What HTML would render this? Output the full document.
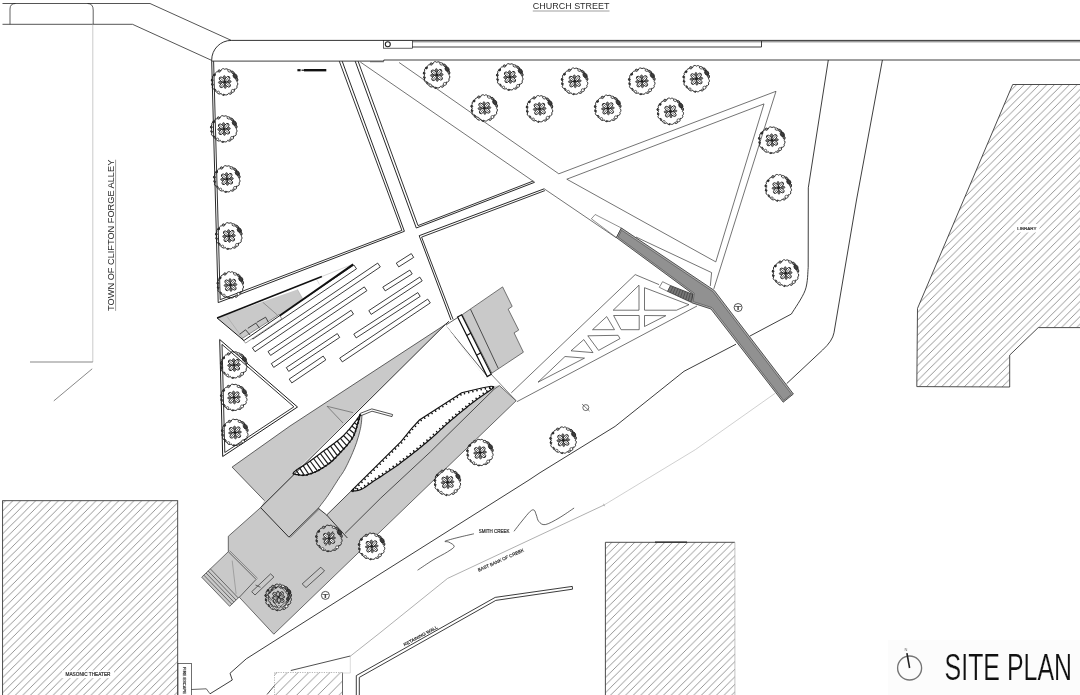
<!DOCTYPE html>
<html lang="en"><head><meta charset="utf-8"><title>Site Plan</title>
<style>html,body{margin:0;padding:0;background:#fff;}body{width:1080px;height:695px;overflow:hidden;}svg{display:block;filter:grayscale(1);}text{font-family:"Liberation Sans",sans-serif;fill:#2a2a2a;}.sm text,text.sm{stroke:#2a2a2a;stroke-width:0.18px;}</style></head><body>
<svg width="1080" height="695" viewBox="0 0 1080 695">
<defs>
<pattern id="h1" patternUnits="userSpaceOnUse" x="6.46" y="0" width="7.57" height="7.57"><path d="M-7.57,7.57 L7.57,-7.57 M0,7.57 L7.57,0 M0,15.14 L15.14,0" stroke="#6c6c6c" stroke-width="0.72" fill="none"/></pattern>
<pattern id="h2" patternUnits="userSpaceOnUse" x="3.68" y="0" width="7.57" height="7.57"><path d="M-7.57,7.57 L7.57,-7.57 M0,7.57 L7.57,0 M0,15.14 L15.14,0" stroke="#6c6c6c" stroke-width="0.72" fill="none"/></pattern>
<pattern id="h3" patternUnits="userSpaceOnUse" x="6" y="0" width="10.6" height="10.6"><path d="M-10.6,10.6 L10.6,-10.6 M0,10.6 L10.6,0 M0,21.2 L21.2,0" stroke="#6c6c6c" stroke-width="0.72" fill="none"/></pattern>
<g id="tree"><path d="M11.9,0 A2.3,2.3 0 0 1 12,3.9 A2.1,2.1 0 0 1 9.6,7 A2.6,2.6 0 0 1 7.4,10.2 A2.1,2.1 0 0 1 3.7,11.3 A2.5,2.5 0 0 1 0,12.6 A2.3,2.3 0 0 1 -3.7,11.3 A2.1,2.1 0 0 1 -7.4,10.2 A2.5,2.5 0 0 1 -9.6,7 A2,2 0 0 1 -12,3.9 A2.4,2.4 0 0 1 -11.9,0 A2.1,2.1 0 0 1 -12,-3.9 A2.1,2.1 0 0 1 -9.6,-7 A2.4,2.4 0 0 1 -7.4,-10.2 A2.7,2.7 0 0 1 -3.7,-11.3 A2.1,2.1 0 0 1 -0,-12.6 A2.2,2.2 0 0 1 3.7,-11.3 A2.6,2.6 0 0 1 7.4,-10.2 A2.9,2.9 0 0 1 9.6,-7 A2.5,2.5 0 0 1 12,-3.9 A2.4,2.4 0 0 1 11.9,-0Z" fill="none" stroke="#1c1c1c" stroke-width="0.9"/><ellipse cx="4.5" cy="-11.1" rx="1.1" ry="1.6" transform="rotate(-68 4.5 -11.1)" fill="#fff" stroke="#1a1a1a" stroke-width="0.7"/><ellipse cx="8" cy="-9.5" rx="1.1" ry="1.6" transform="rotate(-50 8 -9.5)" fill="#777" stroke="#1a1a1a" stroke-width="0.7"/><ellipse cx="10.3" cy="-5.9" rx="1.9" ry="2.5" transform="rotate(-30 10.3 -5.9)" fill="#3c3c3c" stroke="#1a1a1a" stroke-width="0.7"/><ellipse cx="12" cy="-2.6" rx="1" ry="1.4" transform="rotate(-12 12 -2.6)" fill="#888" stroke="#1a1a1a" stroke-width="0.7"/><circle cx="8" cy="8.9" r="1.5" fill="#fff" stroke="#1a1a1a" stroke-width="0.65"/><circle cx="5.9" cy="11.1" r="0.9" fill="#fff" stroke="#1a1a1a" stroke-width="0.65"/><circle cx="-6.5" cy="10.3" r="1.2" fill="#fff" stroke="#1a1a1a" stroke-width="0.65"/><circle cx="-9.4" cy="8.4" r="0.8" fill="#888" stroke="#1a1a1a" stroke-width="0.65"/><circle cx="-12.3" cy="2.6" r="0.9" fill="#444" stroke="#1a1a1a" stroke-width="0.65"/><circle cx="-12.6" cy="-1.8" r="1" fill="#444" stroke="#1a1a1a" stroke-width="0.65"/><circle cx="-10.4" cy="-7" r="1" fill="#333" stroke="#1a1a1a" stroke-width="0.65"/><circle cx="-5.6" cy="-11" r="1.2" fill="#999" stroke="#1a1a1a" stroke-width="0.65"/><circle cx="-1.1" cy="12.8" r="0.7" fill="#666" stroke="#1a1a1a" stroke-width="0.65"/><ellipse cx="2.8" cy="2.4" rx="3.3" ry="1.9" transform="rotate(40 2.8 2.4)" fill="#fff" stroke="#222" stroke-width="0.9"/><ellipse cx="-2.4" cy="2.8" rx="3.3" ry="1.9" transform="rotate(130 -2.4 2.8)" fill="#fff" stroke="#222" stroke-width="0.9"/><ellipse cx="-2.8" cy="-2.4" rx="3.3" ry="1.9" transform="rotate(220 -2.8 -2.4)" fill="#fff" stroke="#222" stroke-width="0.9"/><ellipse cx="2.4" cy="-2.8" rx="3.3" ry="1.9" transform="rotate(310 2.4 -2.8)" fill="#fff" stroke="#222" stroke-width="0.9"/><ellipse cx="4.6" cy="-0.4" rx="1.8" ry="1.1" transform="rotate(-5 4.6 -0.4)" fill="#777" stroke="#222" stroke-width="0.6"/><ellipse cx="0.4" cy="4.6" rx="1.8" ry="1.1" transform="rotate(85 0.4 4.6)" fill="#777" stroke="#222" stroke-width="0.6"/><ellipse cx="-4.6" cy="0.4" rx="1.8" ry="1.1" transform="rotate(175 -4.6 0.4)" fill="#777" stroke="#222" stroke-width="0.6"/><ellipse cx="-0.4" cy="-4.6" rx="1.8" ry="1.1" transform="rotate(265 -0.4 -4.6)" fill="#777" stroke="#222" stroke-width="0.6"/><path d="M-5,-4.2 L5,4.2 M-4.2,5 L4.2,-5 M-2.4,0 H2.4 M0,-2.4 V2.4" stroke="#222" stroke-width="0.7" fill="none"/><circle cx="0" cy="0" r="1.2" fill="#222"/></g>
</defs>
<rect width="1080" height="695" fill="#fff"/>
<g id="masonic">
<rect x="2.6" y="500.7" width="175.1" height="200" fill="url(#h1)" stroke="#3a3a3a" stroke-width="0.9"/>
<rect x="62" y="670.5" width="52" height="7.5" fill="#fff"/>
<text class="sm" x="65.5" y="676.2" font-size="4.5" textLength="45" lengthAdjust="spacingAndGlyphs">MASONIC THEATER</text>
</g>
<g id="fire-escape"><rect x="178" y="663.4" width="13.4" height="40" fill="#fff" stroke="#333" stroke-width="0.7"/>
<text class="sm" transform="translate(183.2,667) rotate(90)" font-size="4.2" textLength="27" lengthAdjust="spacingAndGlyphs">FIRE ESCAPE</text></g>
<g id="library">
<polygon points="1012.7,84.5 1085,84.5 1085,327.6 1038.2,327.6 1009.7,355.1 1009.7,387 916.8,386.6 917.5,308.4" fill="url(#h2)" stroke="#3a3a3a" stroke-width="0.9" />
<rect x="1014.5" y="224" width="25" height="8.5" fill="#fff"/>
<text class="sm" x="1017.3" y="230" font-size="4.4" textLength="19.2" lengthAdjust="spacingAndGlyphs">LIBRARY</text>
</g>
<g id="bldg-south">
<rect x="605.4" y="542.3" width="129.5" height="160" fill="url(#h2)" stroke="none"/>
<polyline points="605.4,700 605.4,542.3 734.9,542.3" fill="none" stroke="#3a3a3a" stroke-width="0.9" />
<line x1="734.9" y1="542.3" x2="734.9" y2="700" stroke="#aaa" stroke-width="0.7"/>
<line x1="655" y1="542.1" x2="687" y2="542.1" stroke="#222" stroke-width="1.2"/>
</g>
<g id="bldg-small">
<rect x="274.5" y="672.5" width="68" height="30" fill="url(#h3)" stroke="none"/>
<polyline points="274.5,700 274.5,672.5 342.5,672.5" fill="none" stroke="#999" stroke-width="0.7" stroke-dasharray="1.2 1.2"/>
<line x1="342.5" y1="672.5" x2="342.5" y2="700" stroke="#444" stroke-width="0.8"/>
</g>
<g id="streets">
<path d="M2.5,3.5 H150 L231.3,40.4" fill="none" stroke="#1c1c1c" stroke-width="0.75" />
<path d="M2.5,24.3 H132.5 L211.5,60.3" fill="none" stroke="#1c1c1c" stroke-width="0.75" />
<path d="M10,24.3 V9 Q10,3.5 15.5,3.5 M87.5,3.5 Q93.2,3.5 93.2,10 V24.3" fill="none" stroke="#1c1c1c" stroke-width="0.7" />
<path d="M211.7,61.2 V60 A19.6,19.6 0 0 1 231.3,40.4 H1080" fill="none" stroke="#1c1c1c" stroke-width="0.9" />
<line x1="412" y1="41.8" x2="1080" y2="41.8" stroke="#333" stroke-width="0.7"/>
<polyline points="211.7,61.1 383.8,61.1 383.8,60 1080,60" fill="none" stroke="#1c1c1c" stroke-width="0.85" />
<line x1="370" y1="61.8" x2="383.8" y2="61.8" stroke="#333" stroke-width="0.6"/>
<rect x="383.5" y="40.6" width="29" height="7.6" fill="#fff" stroke="#222" stroke-width="0.7"/>
<circle cx="387.8" cy="44.3" r="2.5" fill="#fff" stroke="#222" stroke-width="1.1"/>
<polyline points="412,47 761.5,47 761.5,41" fill="none" stroke="#2a2a2a" stroke-width="0.9" />
<line x1="92.8" y1="24.3" x2="92.8" y2="362" stroke="#b4b4b4" stroke-width="0.7"/>
<line x1="30" y1="362" x2="92.8" y2="362" stroke="#555" stroke-width="0.7"/>
<line x1="92.2" y1="368.8" x2="53.8" y2="400.9" stroke="#555" stroke-width="0.7"/>
<path d="M828.3,60 L808.3,187.8 L808.2,267.6 808.2,267.6 C807.7,271.4 808,282.5 805.2,290.2 C802.4,297.9 793.7,310 791.4,314 L750,336" fill="none" stroke="#1c1c1c" stroke-width="0.85" />
<path d="M882.4,60 L856.5,200 L834,332.7 Q832.5,341 822.6,350 L786.7,383.6" fill="none" stroke="#1c1c1c" stroke-width="0.85" />
</g>
<g id="plots">
<polyline points="342.2,61.2 404.4,231.3 218.2,302.6 211.7,61.2" fill="none" stroke="#1c1c1c" stroke-width="0.95" />
<polyline points="339.3,61.2 401.9,230.4 220.2,299.7 213.6,61.2" fill="none" stroke="#1c1c1c" stroke-width="0.9" />
<line x1="297.4" y1="70.2" x2="300.6" y2="70.2" stroke="#111" stroke-width="2.2"/>
<line x1="301.5" y1="70.2" x2="304" y2="70.2" stroke="#111" stroke-width="1.2"/>
<line x1="304" y1="70.2" x2="326.3" y2="70.2" stroke="#111" stroke-width="2.4"/>
<polyline points="355.2,61.2 416.3,228 534.6,182.3" fill="none" stroke="#1c1c1c" stroke-width="0.95" />
<polyline points="358.1,61.2 418,225.6 533.2,181" fill="none" stroke="#1c1c1c" stroke-width="0.9" />
<line x1="360.3" y1="62" x2="534.6" y2="182.2" stroke="#383838" stroke-width="0.7"/>
<line x1="544.2" y1="188.8" x2="616" y2="237.6" stroke="#383838" stroke-width="0.7"/>
<line x1="399.1" y1="62.5" x2="558.8" y2="173.8" stroke="#383838" stroke-width="0.7"/>
<polyline points="451,320 419.2,235.7 544.2,188.8" fill="none" stroke="#1c1c1c" stroke-width="0.95" />
<polyline points="453.1,319.4 421.6,237.1 544.9,190.6" fill="none" stroke="#1c1c1c" stroke-width="0.9" />
<polyline points="558.8,173.8 776,91.3 713.8,288.9" fill="none" stroke="#383838" stroke-width="0.7" />
<polygon points="566.8,179.2 764,103.9 715.8,261.9" fill="none" stroke="#383838" stroke-width="0.7" />
<polyline points="636,237 711.6,272.6 710.3,286" fill="none" stroke="#383838" stroke-width="0.7" />
<polygon points="219.7,339.5 297.5,407 222.7,456.5" fill="none" stroke="#1c1c1c" stroke-width="1.0" />
<polygon points="222,344.4 293.9,406.8 224.8,452.5" fill="none" stroke="#1c1c1c" stroke-width="0.9" />
</g>
<g id="bars">
<polygon points="252.8,339.1 356.5,268.8 353.9,265 250.2,335.3" fill="#fff" stroke="#1a1a1a" stroke-width="0.85" />
<polygon points="255,351.7 380.3,266.9 377.7,263.1 252.4,347.9" fill="#fff" stroke="#1a1a1a" stroke-width="0.85" />
<polygon points="270.6,355.4 366.9,290.7 364.3,286.9 268,351.6" fill="#fff" stroke="#1a1a1a" stroke-width="0.85" />
<polygon points="273.7,367.4 353.5,314.1 351.1,310.3 271.3,363.6" fill="#fff" stroke="#1a1a1a" stroke-width="0.85" />
<polygon points="288.7,371.4 339.7,337.4 337.3,333.6 286.3,367.6" fill="#fff" stroke="#1a1a1a" stroke-width="0.85" />
<polygon points="291.8,382.9 325.8,359.9 323.2,356.1 289.2,379.1" fill="#fff" stroke="#1a1a1a" stroke-width="0.85" />
<polygon points="398.7,266.9 413.7,257.4 411.3,253.6 396.3,263.1" fill="#fff" stroke="#1a1a1a" stroke-width="0.85" />
<polygon points="385.2,290.9 412.2,273.9 409.8,270.1 382.8,287.1" fill="#fff" stroke="#1a1a1a" stroke-width="0.85" />
<polygon points="371.2,314.4 422.2,280.9 419.8,277.1 368.8,310.6" fill="#fff" stroke="#1a1a1a" stroke-width="0.85" />
<polygon points="356.2,337.9 420.2,296.4 417.8,292.6 353.8,334.1" fill="#fff" stroke="#1a1a1a" stroke-width="0.85" />
<polygon points="342.3,361.9 430.3,302.9 427.7,299.1 339.7,358.1" fill="#fff" stroke="#1a1a1a" stroke-width="0.85" />
</g>
<g id="bldg-nw">
<polygon points="217.1,318 297.4,289.4 302.6,298.7 279.6,315.7 244.1,340.5" fill="#c9c9c9" stroke="none" stroke-width="0.7" />
<polygon points="241.9,338.7 245.6,343.1 281.9,318.7 278.9,314.7" fill="#fff" stroke="#333" stroke-width="0.5" />
<line x1="217.1" y1="318" x2="244.1" y2="340.7" stroke="#1a1a1a" stroke-width="1.0"/>
<line x1="227" y1="316.5" x2="242.6" y2="338" stroke="#999" stroke-width="0.5"/>
<line x1="262.6" y1="302.1" x2="277.4" y2="315" stroke="#555" stroke-width="0.5"/>
<line x1="297.4" y1="289.4" x2="302.6" y2="298.7" stroke="#999" stroke-width="0.5"/>
<line x1="316.7" y1="279.4" x2="319.6" y2="284.6" stroke="#bbb" stroke-width="0.5"/>
<polyline points="239.6,334.3 245.6,329.8 250,335" fill="none" stroke="#222" stroke-width="0.8" />
<polyline points="247.8,328.3 255.9,323.1 259.6,328.3" fill="none" stroke="#222" stroke-width="0.8" />
<polyline points="256.7,322.4 265.6,317.2 268.5,322.4" fill="none" stroke="#222" stroke-width="0.8" />
<line x1="217.1" y1="318" x2="321.9" y2="276.5" stroke="#111" stroke-width="1.5"/>
<line x1="321.9" y1="276.5" x2="353" y2="264.2" stroke="#bbb" stroke-width="0.6"/>
<line x1="353.2" y1="264.4" x2="279.6" y2="315.7" stroke="#111" stroke-width="1.9"/>
<line x1="279.6" y1="315.7" x2="244.1" y2="340.4" stroke="#222" stroke-width="1.0"/>
</g>
<g id="bldg-mid">
<polygon points="462.2,314.7 502.6,286.9 512.2,306.4 508.2,309.2 518.7,330.1 514.1,332.9 523.4,352.2 491.8,373.2" fill="#c9c9c9" stroke="#333" stroke-width="0.65" />
<line x1="470.5" y1="309.2" x2="498.3" y2="368.5" stroke="#222" stroke-width="0.75"/>
<polygon points="445.5,325.3 458.2,317.2 487.2,376.2" fill="none" stroke="#2a2a2a" stroke-width="0.75" />
<polygon points="457.6,317 461.6,314.8 491.3,374.2 487.2,376.6" fill="#fff" stroke="#111" stroke-width="1.2" />
<line x1="466.7" y1="335.4" x2="470.7" y2="333.2" stroke="#111" stroke-width="1.1"/>
<line x1="477" y1="355" x2="481" y2="352.8" stroke="#111" stroke-width="1.1"/>
<polyline points="491.3,374.4 516.1,400.8" fill="none" stroke="#333" stroke-width="0.6" />
</g>
<g id="main-building">
<polygon points="445.2,324.6 290,426 232.1,467.1 264.4,500.6 260.6,507.6 228.3,536.3 228.3,551.7 201.7,577.2 229.6,606.3 239.2,597.1 273.8,634.2 516.1,400.8 499.4,385.6 491.3,386.3" fill="#c9c9c9" stroke="none" stroke-width="0.7" />
<polygon points="445.2,324.6 292.8,473.9 292.8,473.9 293,473.7 293.1,473.4 293.3,473 293.6,472.7 293.9,472.2 294.4,471.7 295.1,471.1 295.9,470.4 297,469.6 298.3,468.8 299.7,467.8 301.3,466.8 303,465.8 304.7,464.7 306.4,463.5 308.1,462.4 309.8,461.2 311.5,460 313.2,458.7 315,457.4 316.8,456.1 318.6,454.7 320.3,453.4 322.1,452.1 323.9,450.8 325.7,449.5 327.6,448.2 329.4,446.8 331.2,445.5 332.9,444.2 334.6,443 336.1,441.8 337.5,440.7 338.8,439.6 340,438.6 341.1,437.7 342.2,436.7 343.3,435.7 344.4,434.6 345.5,433.4 346.7,432.1 347.9,430.7 349.2,429.3 350.4,427.8 351.6,426.3 352.7,424.8 353.8,423.5 354.8,422.2 355.7,421 356.6,419.8 357.4,418.6 358.2,417.5 358.9,416.5 359.5,415.6 360,414.8 360.4,414.2 362,415.5 361.9,416.5 361.8,417.7 361.7,419.2 361.6,420.9 361.4,422.8 361.1,424.7 360.8,426.7 360.4,428.7 359.9,430.8 359.4,432.9 358.8,435.2 358.1,437.6 357.3,440 356.6,442.5 355.7,444.9 354.8,447.4 353.8,449.9 352.7,452.6 351.5,455.4 350.3,458.1 349,460.8 347.8,463.4 346.6,465.8 345.5,468 344.5,469.9 343.5,471.5 342.6,473 341.7,474.3 340.8,475.6 339.8,476.9 338.9,478.4 337.8,480 336.7,481.8 335.5,483.7 334.2,485.7 332.9,487.8 331.6,489.8 330.3,491.8 329,493.8 327.8,495.6 326.5,497.4 325.2,499.3 323.8,501.1 322.4,502.9 321.1,504.6 320,506.1 319,507.3 318.3,508.3 326.7,515 351.1,491.1 351.1,491.1 351.9,491 352.8,490.9 354,490.9 355.3,490.8 356.7,490.6 358.2,490.3 359.7,489.9 361.1,489.4 362.5,488.7 363.8,488 365.1,487.1 366.5,486.2 368,485.1 369.6,483.9 371.4,482.7 373.4,481.3 375.7,479.8 378.2,478.2 381,476.4 383.8,474.5 386.8,472.6 389.8,470.6 392.8,468.6 395.7,466.5 398.7,464.4 401.7,462.1 404.8,459.7 408,457.3 411,454.9 414,452.6 416.8,450.4 419.4,448.3 421.7,446.4 423.9,444.6 425.9,443 427.8,441.3 429.6,439.8 431.4,438.2 433.2,436.6 435,435 436.9,433.3 438.7,431.6 440.5,429.9 442.3,428.2 444.1,426.5 445.9,424.9 447.7,423.3 449.4,421.7 451.1,420.2 452.8,418.8 454.5,417.4 456.2,416 457.8,414.6 459.5,413.3 461.1,411.9 462.8,410.6 464.4,409.3 466.1,407.9 467.6,406.6 469.2,405.3 470.9,404 472.5,402.7 474.3,401.4 476.1,400 478.1,398.5 480.5,396.9 482.9,395.3 485.4,393.6 487.7,392 489.8,390.6 491.6,389.3 492.8,388.3 493.5,387.6 493.7,387.1 493.5,386.8 493.1,386.6 492.6,386.5 492,386.4 491.5,386.4 491.3,386.3" fill="#fff" stroke="none" stroke-width="0.7" />
<polygon points="292.8,473.9 293,473.7 293.1,473.4 293.3,473 293.6,472.7 293.9,472.2 294.4,471.7 295.1,471.1 295.9,470.4 297,469.6 298.3,468.8 299.7,467.8 301.3,466.8 303,465.8 304.7,464.7 306.4,463.5 308.1,462.4 309.8,461.2 311.5,460 313.2,458.7 315,457.4 316.8,456.1 318.6,454.7 320.3,453.4 322.1,452.1 323.9,450.8 325.7,449.5 327.6,448.2 329.4,446.8 331.2,445.5 332.9,444.2 334.6,443 336.1,441.8 337.5,440.7 338.8,439.6 340,438.6 341.1,437.7 342.2,436.7 343.3,435.7 344.4,434.6 345.5,433.4 346.7,432.1 347.9,430.7 349.2,429.3 350.4,427.8 351.6,426.3 352.7,424.8 353.8,423.5 354.8,422.2 355.7,421 356.6,419.8 357.4,418.6 358.2,417.5 358.9,416.5 359.5,415.6 360,414.8 360.4,414.2 360.4,414.2 360.2,414.9 359.9,415.9 359.6,417.1 359.2,418.4 358.8,419.8 358.4,421.2 358,422.6 357.6,424 357.2,425.4 356.8,426.8 356.4,428.3 355.9,429.7 355.5,431.2 355,432.6 354.5,434 353.9,435.3 353.3,436.5 352.7,437.6 352.1,438.6 351.4,439.6 350.7,440.6 349.9,441.6 349.1,442.6 348.3,443.7 347.4,444.8 346.4,446 345.4,447.1 344.3,448.3 343.2,449.5 342.1,450.6 341,451.8 339.9,453 338.8,454.2 337.7,455.4 336.5,456.6 335.4,457.8 334.2,459 333,460.2 331.8,461.3 330.5,462.4 329.2,463.5 327.8,464.5 326.3,465.5 324.8,466.5 323.4,467.4 321.9,468.3 320.6,469.2 319.3,469.9 318.1,470.6 317,471.1 315.9,471.7 314.9,472.1 313.9,472.5 312.9,472.9 311.9,473.3 310.9,473.6 309.9,473.9 309,474.2 308.2,474.5 307.3,474.8 306.4,475 305.5,475.1 304.5,475.2 303.4,475.3 302.2,475.3 300.7,475.1 299.2,474.9 297.6,474.7 296.1,474.5 294.8,474.2 293.6,474 292.8,473.9" fill="#fff" stroke="none" stroke-width="0.7" />
<polyline points="445.2,324.6 290,426 232.1,467.1 264.4,500.6" fill="none" stroke="#333" stroke-width="0.75" />
<polyline points="449,321.3 445.2,324.6 260.6,507.6" fill="none" stroke="#1a1a1a" stroke-width="0.95" />
<polyline points="260.6,507.6 228.3,536.3 228.3,551.7" fill="none" stroke="#333" stroke-width="0.7" />
<polyline points="260.6,507.6 288.9,537.2 318.3,508.3" fill="none" stroke="#1a1a1a" stroke-width="0.9" />
<line x1="290.3" y1="537.4" x2="319.5" y2="508.8" stroke="#333" stroke-width="0.5"/>
<polyline points="362,415.5 361.9,416.5 361.8,417.7 361.7,419.2 361.6,420.9 361.4,422.8 361.1,424.7 360.8,426.7 360.4,428.7 359.9,430.8 359.4,432.9 358.8,435.2 358.1,437.6 357.3,440 356.6,442.5 355.7,444.9 354.8,447.4 353.8,449.9 352.7,452.6 351.5,455.4 350.3,458.1 349,460.8 347.8,463.4 346.6,465.8 345.5,468 344.5,469.9 343.5,471.5 342.6,473 341.7,474.3 340.8,475.6 339.8,476.9 338.9,478.4 337.8,480 336.7,481.8 335.5,483.7 334.2,485.7 332.9,487.8 331.6,489.8 330.3,491.8 329,493.8 327.8,495.6 326.5,497.4 325.2,499.3 323.8,501.1 322.4,502.9 321.1,504.6 320,506.1 319,507.3 318.3,508.3" fill="none" stroke="#2a2a2a" stroke-width="0.7" />
<polyline points="318.3,508.3 326.7,515 347.4,538" fill="none" stroke="#1a1a1a" stroke-width="0.85" />
<polyline points="326.7,515 351.1,491.1" fill="none" stroke="#222" stroke-width="0.8" />
<polyline points="345,533.5 380.8,498 430.6,451.7 493.9,389.4" fill="none" stroke="#222" stroke-width="0.75" />
<polyline points="493.9,389.4 499.4,385.6 516.1,400.8 273.8,634.2 239.2,597.1" fill="none" stroke="#333" stroke-width="0.7" />
<polyline points="353,412.6 327.1,406.3 343,423" fill="none" stroke="#444" stroke-width="0.55" />
<line x1="296.1" y1="470.2" x2="299.5" y2="475" stroke="#1a1a1a" stroke-width="1.2"/>
<line x1="299.6" y1="467.9" x2="304.3" y2="475.3" stroke="#1a1a1a" stroke-width="1.2"/>
<line x1="303.2" y1="465.7" x2="308.7" y2="474.3" stroke="#1a1a1a" stroke-width="1.2"/>
<line x1="306.7" y1="463.4" x2="313.1" y2="472.8" stroke="#1a1a1a" stroke-width="1.2"/>
<line x1="310.1" y1="461" x2="317.4" y2="470.9" stroke="#1a1a1a" stroke-width="1.2"/>
<line x1="313.5" y1="458.5" x2="321.2" y2="468.8" stroke="#1a1a1a" stroke-width="1.2"/>
<line x1="316.9" y1="456" x2="324.8" y2="466.5" stroke="#1a1a1a" stroke-width="1.2"/>
<line x1="320.3" y1="453.5" x2="328.2" y2="464.2" stroke="#1a1a1a" stroke-width="1.2"/>
<line x1="323.6" y1="451" x2="331.4" y2="461.6" stroke="#1a1a1a" stroke-width="1.2"/>
<line x1="327" y1="448.5" x2="334.4" y2="458.8" stroke="#1a1a1a" stroke-width="1.2"/>
<line x1="330.5" y1="446.1" x2="337.4" y2="455.6" stroke="#1a1a1a" stroke-width="1.2"/>
<line x1="333.8" y1="443.6" x2="340.5" y2="452.4" stroke="#1a1a1a" stroke-width="1.2"/>
<line x1="337.1" y1="441" x2="343.6" y2="449.1" stroke="#1a1a1a" stroke-width="1.2"/>
<line x1="340.4" y1="438.3" x2="346.7" y2="445.6" stroke="#1a1a1a" stroke-width="1.2"/>
<line x1="343.5" y1="435.5" x2="349.8" y2="441.8" stroke="#1a1a1a" stroke-width="1.2"/>
<line x1="346.4" y1="432.4" x2="352.4" y2="438" stroke="#1a1a1a" stroke-width="1.2"/>
<line x1="349.1" y1="429.3" x2="354.5" y2="433.8" stroke="#1a1a1a" stroke-width="1.2"/>
<line x1="351.8" y1="426" x2="356" y2="429.4" stroke="#1a1a1a" stroke-width="1.2"/>
<line x1="354.4" y1="422.7" x2="357.3" y2="425" stroke="#1a1a1a" stroke-width="1.2"/>
<line x1="356.9" y1="419.3" x2="358.6" y2="420.6" stroke="#1a1a1a" stroke-width="1.2"/>
<line x1="359.3" y1="415.9" x2="359.8" y2="416.2" stroke="#1a1a1a" stroke-width="1.2"/>
<polyline points="292.8,473.9 293,473.7 293.1,473.4 293.3,473 293.6,472.7 293.9,472.2 294.4,471.7 295.1,471.1 295.9,470.4 297,469.6 298.3,468.8 299.7,467.8 301.3,466.8 303,465.8 304.7,464.7 306.4,463.5 308.1,462.4 309.8,461.2 311.5,460 313.2,458.7 315,457.4 316.8,456.1 318.6,454.7 320.3,453.4 322.1,452.1 323.9,450.8 325.7,449.5 327.6,448.2 329.4,446.8 331.2,445.5 332.9,444.2 334.6,443 336.1,441.8 337.5,440.7 338.8,439.6 340,438.6 341.1,437.7 342.2,436.7 343.3,435.7 344.4,434.6 345.5,433.4 346.7,432.1 347.9,430.7 349.2,429.3 350.4,427.8 351.6,426.3 352.7,424.8 353.8,423.5 354.8,422.2 355.7,421 356.6,419.8 357.4,418.6 358.2,417.5 358.9,416.5 359.5,415.6 360,414.8 360.4,414.2" fill="none" stroke="#111" stroke-width="1.2" />
<polyline points="292.8,473.9 293.6,474 294.8,474.2 296.1,474.5 297.6,474.7 299.2,474.9 300.7,475.1 302.2,475.3 303.4,475.3 304.5,475.2 305.5,475.1 306.4,475 307.3,474.8 308.2,474.5 309,474.2 309.9,473.9 310.9,473.6 311.9,473.3 312.9,472.9 313.9,472.5 314.9,472.1 315.9,471.7 317,471.1 318.1,470.6 319.3,469.9 320.6,469.2 321.9,468.3 323.4,467.4 324.8,466.5 326.3,465.5 327.8,464.5 329.2,463.5 330.5,462.4 331.8,461.3 333,460.2 334.2,459 335.4,457.8 336.5,456.6 337.7,455.4 338.8,454.2 339.9,453 341,451.8 342.1,450.6 343.2,449.5 344.3,448.3 345.4,447.1 346.4,446 347.4,444.8 348.3,443.7 349.1,442.6 349.9,441.6 350.7,440.6 351.4,439.6 352.1,438.6 352.7,437.6 353.3,436.5 353.9,435.3 354.5,434 355,432.6 355.5,431.2 355.9,429.7 356.4,428.3 356.8,426.8 357.2,425.4 357.6,424 358,422.6 358.4,421.2 358.8,419.8 359.2,418.4 359.6,417.1 359.9,415.9 360.2,414.9 360.4,414.2" fill="none" stroke="#111" stroke-width="1.3" />
<circle cx="298.7" cy="474.9" r="0.95" fill="#111"/>
<circle cx="302.9" cy="475.3" r="0.95" fill="#111"/>
<circle cx="307.1" cy="474.8" r="0.95" fill="#111"/>
<circle cx="311.1" cy="473.5" r="0.95" fill="#111"/>
<circle cx="315" cy="472.1" r="0.95" fill="#111"/>
<circle cx="318.7" cy="470.2" r="0.95" fill="#111"/>
<circle cx="322.4" cy="468.1" r="0.95" fill="#111"/>
<circle cx="325.9" cy="465.8" r="0.95" fill="#111"/>
<circle cx="329.3" cy="463.3" r="0.95" fill="#111"/>
<circle cx="332.5" cy="460.6" r="0.95" fill="#111"/>
<circle cx="335.5" cy="457.7" r="0.95" fill="#111"/>
<circle cx="338.4" cy="454.6" r="0.95" fill="#111"/>
<circle cx="341.3" cy="451.6" r="0.95" fill="#111"/>
<circle cx="344.1" cy="448.5" r="0.95" fill="#111"/>
<circle cx="346.9" cy="445.4" r="0.95" fill="#111"/>
<circle cx="349.6" cy="442.1" r="0.95" fill="#111"/>
<circle cx="352" cy="438.7" r="0.95" fill="#111"/>
<circle cx="354" cy="435" r="0.95" fill="#111"/>
<circle cx="355.5" cy="431.1" r="0.95" fill="#111"/>
<circle cx="356.7" cy="427.1" r="0.95" fill="#111"/>
<circle cx="357.9" cy="423" r="0.95" fill="#111"/>
<circle cx="359.1" cy="419" r="0.95" fill="#111"/>
<circle cx="360.2" cy="414.9" r="0.95" fill="#111"/>
<polygon points="360.2,413.4 371.8,408.9 392.6,414.5 392,416.6 372,411.2 361.2,415.6" fill="#fff" stroke="#1a1a1a" stroke-width="0.75" />
<polyline points="491.3,386.3 482.8,387.8 461.7,392.8 419.4,420 411.7,428.3 401.2,441.4 351.1,491.1" fill="none" stroke="#111" stroke-width="1.15" />
<line x1="489.3" y1="386.6" x2="489.6" y2="388.1" stroke="#111" stroke-width="0.9"/>
<circle cx="489.6" cy="388.1" r="0.8" fill="#111"/>
<line x1="485.1" y1="387.4" x2="485.4" y2="388.9" stroke="#111" stroke-width="0.9"/>
<circle cx="485.4" cy="388.9" r="0.8" fill="#111"/>
<line x1="480.9" y1="388.3" x2="481.2" y2="389.7" stroke="#111" stroke-width="0.9"/>
<circle cx="481.2" cy="389.7" r="0.8" fill="#111"/>
<line x1="476.7" y1="389.2" x2="477" y2="390.7" stroke="#111" stroke-width="0.9"/>
<circle cx="477" cy="390.7" r="0.8" fill="#111"/>
<line x1="472.5" y1="390.2" x2="472.9" y2="391.7" stroke="#111" stroke-width="0.9"/>
<circle cx="472.9" cy="391.7" r="0.8" fill="#111"/>
<line x1="468.3" y1="391.2" x2="468.7" y2="392.7" stroke="#111" stroke-width="0.9"/>
<circle cx="468.7" cy="392.7" r="0.8" fill="#111"/>
<line x1="464.1" y1="392.2" x2="464.5" y2="393.7" stroke="#111" stroke-width="0.9"/>
<circle cx="464.5" cy="393.7" r="0.8" fill="#111"/>
<line x1="460.2" y1="393.8" x2="461" y2="395" stroke="#111" stroke-width="0.9"/>
<circle cx="461" cy="395" r="0.8" fill="#111"/>
<line x1="456.6" y1="396.1" x2="457.4" y2="397.4" stroke="#111" stroke-width="0.9"/>
<circle cx="457.4" cy="397.4" r="0.8" fill="#111"/>
<line x1="453" y1="398.4" x2="453.8" y2="399.7" stroke="#111" stroke-width="0.9"/>
<circle cx="453.8" cy="399.7" r="0.8" fill="#111"/>
<line x1="449.3" y1="400.7" x2="450.2" y2="402" stroke="#111" stroke-width="0.9"/>
<circle cx="450.2" cy="402" r="0.8" fill="#111"/>
<line x1="445.7" y1="403.1" x2="446.5" y2="404.3" stroke="#111" stroke-width="0.9"/>
<circle cx="446.5" cy="404.3" r="0.8" fill="#111"/>
<line x1="442.1" y1="405.4" x2="442.9" y2="406.7" stroke="#111" stroke-width="0.9"/>
<circle cx="442.9" cy="406.7" r="0.8" fill="#111"/>
<line x1="438.5" y1="407.7" x2="439.3" y2="409" stroke="#111" stroke-width="0.9"/>
<circle cx="439.3" cy="409" r="0.8" fill="#111"/>
<line x1="434.9" y1="410" x2="435.7" y2="411.3" stroke="#111" stroke-width="0.9"/>
<circle cx="435.7" cy="411.3" r="0.8" fill="#111"/>
<line x1="431.3" y1="412.4" x2="432.1" y2="413.6" stroke="#111" stroke-width="0.9"/>
<circle cx="432.1" cy="413.6" r="0.8" fill="#111"/>
<line x1="427.6" y1="414.7" x2="428.5" y2="416" stroke="#111" stroke-width="0.9"/>
<circle cx="428.5" cy="416" r="0.8" fill="#111"/>
<line x1="424" y1="417" x2="424.8" y2="418.3" stroke="#111" stroke-width="0.9"/>
<circle cx="424.8" cy="418.3" r="0.8" fill="#111"/>
<line x1="420.4" y1="419.3" x2="421.2" y2="420.6" stroke="#111" stroke-width="0.9"/>
<circle cx="421.2" cy="420.6" r="0.8" fill="#111"/>
<line x1="417.3" y1="422.3" x2="418.4" y2="423.3" stroke="#111" stroke-width="0.9"/>
<circle cx="418.4" cy="423.3" r="0.8" fill="#111"/>
<line x1="414.4" y1="425.4" x2="415.5" y2="426.4" stroke="#111" stroke-width="0.9"/>
<circle cx="415.5" cy="426.4" r="0.8" fill="#111"/>
<line x1="411.5" y1="428.6" x2="412.6" y2="429.5" stroke="#111" stroke-width="0.9"/>
<circle cx="412.6" cy="429.5" r="0.8" fill="#111"/>
<line x1="408.8" y1="431.9" x2="409.9" y2="432.9" stroke="#111" stroke-width="0.9"/>
<circle cx="409.9" cy="432.9" r="0.8" fill="#111"/>
<line x1="406.1" y1="435.3" x2="407.3" y2="436.2" stroke="#111" stroke-width="0.9"/>
<circle cx="407.3" cy="436.2" r="0.8" fill="#111"/>
<line x1="403.4" y1="438.7" x2="404.6" y2="439.6" stroke="#111" stroke-width="0.9"/>
<circle cx="404.6" cy="439.6" r="0.8" fill="#111"/>
<line x1="400.6" y1="442" x2="401.7" y2="443" stroke="#111" stroke-width="0.9"/>
<circle cx="401.7" cy="443" r="0.8" fill="#111"/>
<line x1="397.6" y1="445" x2="398.6" y2="446" stroke="#111" stroke-width="0.9"/>
<circle cx="398.6" cy="446" r="0.8" fill="#111"/>
<line x1="394.5" y1="448" x2="395.6" y2="449.1" stroke="#111" stroke-width="0.9"/>
<circle cx="395.6" cy="449.1" r="0.8" fill="#111"/>
<line x1="391.5" y1="451" x2="392.5" y2="452.1" stroke="#111" stroke-width="0.9"/>
<circle cx="392.5" cy="452.1" r="0.8" fill="#111"/>
<line x1="388.4" y1="454.1" x2="389.5" y2="455.1" stroke="#111" stroke-width="0.9"/>
<circle cx="389.5" cy="455.1" r="0.8" fill="#111"/>
<line x1="385.4" y1="457.1" x2="386.4" y2="458.2" stroke="#111" stroke-width="0.9"/>
<circle cx="386.4" cy="458.2" r="0.8" fill="#111"/>
<line x1="382.3" y1="460.1" x2="383.4" y2="461.2" stroke="#111" stroke-width="0.9"/>
<circle cx="383.4" cy="461.2" r="0.8" fill="#111"/>
<line x1="379.3" y1="463.2" x2="380.3" y2="464.2" stroke="#111" stroke-width="0.9"/>
<circle cx="380.3" cy="464.2" r="0.8" fill="#111"/>
<line x1="376.2" y1="466.2" x2="377.3" y2="467.2" stroke="#111" stroke-width="0.9"/>
<circle cx="377.3" cy="467.2" r="0.8" fill="#111"/>
<line x1="373.2" y1="469.2" x2="374.2" y2="470.3" stroke="#111" stroke-width="0.9"/>
<circle cx="374.2" cy="470.3" r="0.8" fill="#111"/>
<line x1="370.1" y1="472.2" x2="371.2" y2="473.3" stroke="#111" stroke-width="0.9"/>
<circle cx="371.2" cy="473.3" r="0.8" fill="#111"/>
<line x1="367.1" y1="475.3" x2="368.1" y2="476.3" stroke="#111" stroke-width="0.9"/>
<circle cx="368.1" cy="476.3" r="0.8" fill="#111"/>
<line x1="364" y1="478.3" x2="365.1" y2="479.4" stroke="#111" stroke-width="0.9"/>
<circle cx="365.1" cy="479.4" r="0.8" fill="#111"/>
<line x1="361" y1="481.3" x2="362" y2="482.4" stroke="#111" stroke-width="0.9"/>
<circle cx="362" cy="482.4" r="0.8" fill="#111"/>
<line x1="357.9" y1="484.3" x2="359" y2="485.4" stroke="#111" stroke-width="0.9"/>
<circle cx="359" cy="485.4" r="0.8" fill="#111"/>
<line x1="354.9" y1="487.4" x2="355.9" y2="488.4" stroke="#111" stroke-width="0.9"/>
<circle cx="355.9" cy="488.4" r="0.8" fill="#111"/>
<line x1="351.8" y1="490.4" x2="352.9" y2="491.5" stroke="#111" stroke-width="0.9"/>
<circle cx="352.9" cy="491.5" r="0.8" fill="#111"/>
<polyline points="491.3,386.3 491.5,386.4 492,386.4 492.6,386.5 493.1,386.6 493.5,386.8 493.7,387.1 493.5,387.6 492.8,388.3 491.6,389.3 489.8,390.6 487.7,392 485.4,393.6 482.9,395.3 480.5,396.9 478.1,398.5 476.1,400 474.3,401.4 472.5,402.7 470.9,404 469.2,405.3 467.6,406.6 466.1,407.9 464.4,409.3 462.8,410.6 461.1,411.9 459.5,413.3 457.8,414.6 456.2,416 454.5,417.4 452.8,418.8 451.1,420.2 449.4,421.7 447.7,423.3 445.9,424.9 444.1,426.5 442.3,428.2 440.5,429.9 438.7,431.6 436.9,433.3 435,435 433.2,436.6 431.4,438.2 429.6,439.8 427.8,441.3 425.9,443 423.9,444.6 421.7,446.4 419.4,448.3 416.8,450.4 414,452.6 411,454.9 408,457.3 404.8,459.7 401.7,462.1 398.7,464.4 395.7,466.5 392.8,468.6 389.8,470.6 386.8,472.6 383.8,474.5 381,476.4 378.2,478.2 375.7,479.8 373.4,481.3 371.4,482.7 369.6,483.9 368,485.1 366.5,486.2 365.1,487.1 363.8,488 362.5,488.7 361.1,489.4 359.7,489.9 358.2,490.3 356.7,490.6 355.3,490.8 354,490.9 352.8,490.9 351.9,491 351.1,491.1" fill="none" stroke="#111" stroke-width="1.25" />
<line x1="493.3" y1="386.6" x2="492.6" y2="388" stroke="#111" stroke-width="0.9"/>
<circle cx="492.6" cy="388" r="0.8" fill="#111"/>
<line x1="491.1" y1="389.6" x2="490.2" y2="388.4" stroke="#111" stroke-width="0.9"/>
<circle cx="490.2" cy="388.4" r="0.8" fill="#111"/>
<line x1="487.6" y1="392.1" x2="486.8" y2="390.9" stroke="#111" stroke-width="0.9"/>
<circle cx="486.8" cy="390.9" r="0.8" fill="#111"/>
<line x1="484" y1="394.5" x2="483.2" y2="393.3" stroke="#111" stroke-width="0.9"/>
<circle cx="483.2" cy="393.3" r="0.8" fill="#111"/>
<line x1="480.5" y1="396.9" x2="479.6" y2="395.7" stroke="#111" stroke-width="0.9"/>
<circle cx="479.6" cy="395.7" r="0.8" fill="#111"/>
<line x1="477" y1="399.4" x2="476.1" y2="398.2" stroke="#111" stroke-width="0.9"/>
<circle cx="476.1" cy="398.2" r="0.8" fill="#111"/>
<line x1="473.5" y1="402" x2="472.6" y2="400.8" stroke="#111" stroke-width="0.9"/>
<circle cx="472.6" cy="400.8" r="0.8" fill="#111"/>
<line x1="470.1" y1="404.6" x2="469.2" y2="403.5" stroke="#111" stroke-width="0.9"/>
<circle cx="469.2" cy="403.5" r="0.8" fill="#111"/>
<line x1="466.8" y1="407.3" x2="465.8" y2="406.2" stroke="#111" stroke-width="0.9"/>
<circle cx="465.8" cy="406.2" r="0.8" fill="#111"/>
<line x1="463.5" y1="410.1" x2="462.5" y2="408.9" stroke="#111" stroke-width="0.9"/>
<circle cx="462.5" cy="408.9" r="0.8" fill="#111"/>
<line x1="460.1" y1="412.8" x2="459.2" y2="411.6" stroke="#111" stroke-width="0.9"/>
<circle cx="459.2" cy="411.6" r="0.8" fill="#111"/>
<line x1="456.8" y1="415.5" x2="455.8" y2="414.3" stroke="#111" stroke-width="0.9"/>
<circle cx="455.8" cy="414.3" r="0.8" fill="#111"/>
<line x1="453.5" y1="418.2" x2="452.5" y2="417.1" stroke="#111" stroke-width="0.9"/>
<circle cx="452.5" cy="417.1" r="0.8" fill="#111"/>
<line x1="450.2" y1="421" x2="449.2" y2="419.9" stroke="#111" stroke-width="0.9"/>
<circle cx="449.2" cy="419.9" r="0.8" fill="#111"/>
<line x1="447" y1="423.9" x2="446" y2="422.8" stroke="#111" stroke-width="0.9"/>
<circle cx="446" cy="422.8" r="0.8" fill="#111"/>
<line x1="443.8" y1="426.8" x2="442.8" y2="425.7" stroke="#111" stroke-width="0.9"/>
<circle cx="442.8" cy="425.7" r="0.8" fill="#111"/>
<line x1="440.7" y1="429.7" x2="439.7" y2="428.6" stroke="#111" stroke-width="0.9"/>
<circle cx="439.7" cy="428.6" r="0.8" fill="#111"/>
<line x1="437.6" y1="432.7" x2="436.6" y2="431.6" stroke="#111" stroke-width="0.9"/>
<circle cx="436.6" cy="431.6" r="0.8" fill="#111"/>
<line x1="434.4" y1="435.6" x2="433.4" y2="434.4" stroke="#111" stroke-width="0.9"/>
<circle cx="433.4" cy="434.4" r="0.8" fill="#111"/>
<line x1="431.2" y1="438.4" x2="430.2" y2="437.3" stroke="#111" stroke-width="0.9"/>
<circle cx="430.2" cy="437.3" r="0.8" fill="#111"/>
<line x1="427.9" y1="441.2" x2="426.9" y2="440.1" stroke="#111" stroke-width="0.9"/>
<circle cx="426.9" cy="440.1" r="0.8" fill="#111"/>
<line x1="424.6" y1="444" x2="423.7" y2="442.9" stroke="#111" stroke-width="0.9"/>
<circle cx="423.7" cy="442.9" r="0.8" fill="#111"/>
<line x1="421.3" y1="446.7" x2="420.4" y2="445.6" stroke="#111" stroke-width="0.9"/>
<circle cx="420.4" cy="445.6" r="0.8" fill="#111"/>
<line x1="418" y1="449.4" x2="417" y2="448.3" stroke="#111" stroke-width="0.9"/>
<circle cx="417" cy="448.3" r="0.8" fill="#111"/>
<line x1="414.6" y1="452.1" x2="413.7" y2="450.9" stroke="#111" stroke-width="0.9"/>
<circle cx="413.7" cy="450.9" r="0.8" fill="#111"/>
<line x1="411.2" y1="454.8" x2="410.3" y2="453.6" stroke="#111" stroke-width="0.9"/>
<circle cx="410.3" cy="453.6" r="0.8" fill="#111"/>
<line x1="407.8" y1="457.4" x2="406.9" y2="456.2" stroke="#111" stroke-width="0.9"/>
<circle cx="406.9" cy="456.2" r="0.8" fill="#111"/>
<line x1="404.4" y1="460" x2="403.5" y2="458.8" stroke="#111" stroke-width="0.9"/>
<circle cx="403.5" cy="458.8" r="0.8" fill="#111"/>
<line x1="401" y1="462.6" x2="400.1" y2="461.4" stroke="#111" stroke-width="0.9"/>
<circle cx="400.1" cy="461.4" r="0.8" fill="#111"/>
<line x1="397.5" y1="465.2" x2="396.6" y2="464" stroke="#111" stroke-width="0.9"/>
<circle cx="396.6" cy="464" r="0.8" fill="#111"/>
<line x1="394" y1="467.7" x2="393.2" y2="466.4" stroke="#111" stroke-width="0.9"/>
<circle cx="393.2" cy="466.4" r="0.8" fill="#111"/>
<line x1="390.5" y1="470.1" x2="389.6" y2="468.9" stroke="#111" stroke-width="0.9"/>
<circle cx="389.6" cy="468.9" r="0.8" fill="#111"/>
<line x1="386.9" y1="472.5" x2="386.1" y2="471.3" stroke="#111" stroke-width="0.9"/>
<circle cx="386.1" cy="471.3" r="0.8" fill="#111"/>
<line x1="383.3" y1="474.9" x2="382.5" y2="473.6" stroke="#111" stroke-width="0.9"/>
<circle cx="382.5" cy="473.6" r="0.8" fill="#111"/>
<line x1="379.7" y1="477.2" x2="378.9" y2="475.9" stroke="#111" stroke-width="0.9"/>
<circle cx="378.9" cy="475.9" r="0.8" fill="#111"/>
<line x1="376.1" y1="479.5" x2="375.3" y2="478.3" stroke="#111" stroke-width="0.9"/>
<circle cx="375.3" cy="478.3" r="0.8" fill="#111"/>
<line x1="372.5" y1="481.9" x2="371.7" y2="480.7" stroke="#111" stroke-width="0.9"/>
<circle cx="371.7" cy="480.7" r="0.8" fill="#111"/>
<line x1="369" y1="484.4" x2="368.1" y2="483.1" stroke="#111" stroke-width="0.9"/>
<circle cx="368.1" cy="483.1" r="0.8" fill="#111"/>
<line x1="365.5" y1="486.9" x2="364.6" y2="485.6" stroke="#111" stroke-width="0.9"/>
<circle cx="364.6" cy="485.6" r="0.8" fill="#111"/>
<line x1="361.8" y1="489.1" x2="361.1" y2="487.7" stroke="#111" stroke-width="0.9"/>
<circle cx="361.1" cy="487.7" r="0.8" fill="#111"/>
<line x1="357.7" y1="490.4" x2="357.5" y2="488.9" stroke="#111" stroke-width="0.9"/>
<circle cx="357.5" cy="488.9" r="0.8" fill="#111"/>
<line x1="353.5" y1="490.9" x2="353.4" y2="489.4" stroke="#111" stroke-width="0.9"/>
<circle cx="353.4" cy="489.4" r="0.8" fill="#111"/>
<polyline points="228.3,551.7 201.7,577.2 229.6,606.3 239.2,597.1" fill="none" stroke="#333" stroke-width="0.7" />
<line x1="203.8" y1="575.1" x2="231.8" y2="604.2" stroke="#333" stroke-width="0.65"/>
<line x1="206" y1="573" x2="233.9" y2="602.1" stroke="#333" stroke-width="0.65"/>
<line x1="208.1" y1="570.9" x2="236" y2="600" stroke="#333" stroke-width="0.65"/>
<line x1="210.3" y1="568.8" x2="238.2" y2="597.9" stroke="#333" stroke-width="0.65"/>
<polyline points="228.3,551.7 256.1,579.4 239.4,597.2" fill="none" stroke="#333" stroke-width="0.7" />
<line x1="229.6" y1="550.6" x2="257.6" y2="578.4" stroke="#444" stroke-width="0.5"/>
<line x1="232.2" y1="560.6" x2="236.1" y2="593.9" stroke="#777" stroke-width="0.5"/>
<polygon points="251.7,591.7 270.6,573.9 273.9,577 255,595" fill="none" stroke="#2a2a2a" stroke-width="0.7" />
<polygon points="302.2,583.9 320.8,567.2 324.5,570.9 306,587.6" fill="none" stroke="#2a2a2a" stroke-width="0.7" />
<line x1="255.5" y1="585" x2="260.5" y2="587.3" stroke="#222" stroke-width="0.6"/>
</g>
<g id="truss">
<polyline points="659,284.6 635.2,274.6 511.3,392.8" fill="none" stroke="#383838" stroke-width="0.7" />
<line x1="697" y1="306" x2="516.9" y2="401.7" stroke="#383838" stroke-width="0.7"/>
<polygon points="639,285.2 639,310.2 613.2,310.2" fill="none" stroke="#383838" stroke-width="0.7" />
<polygon points="644.5,287.7 689,304.7 676.5,310.2 644.5,310.2" fill="none" stroke="#383838" stroke-width="0.7" />
<polygon points="606.7,316.6 614.5,329.7 592.5,329.7" fill="none" stroke="#383838" stroke-width="0.7" />
<polygon points="613.6,315.5 639.2,315.5 639.2,329.7 621.1,329.7" fill="none" stroke="#383838" stroke-width="0.7" />
<polygon points="644.5,315.5 665.8,315.7 644.5,326.5" fill="none" stroke="#383838" stroke-width="0.7" />
<polygon points="583.8,339.6 593,352.6 571,350.8" fill="none" stroke="#383838" stroke-width="0.7" />
<polygon points="587.8,335.8 618.1,335.3 620,338.6 598.6,350.4" fill="none" stroke="#383838" stroke-width="0.7" />
<polygon points="565,356.5 584.5,358.1 538,382.2" fill="none" stroke="#383838" stroke-width="0.7" />
</g>
<g id="bridge">
<polygon points="591.4,218.8 595.2,214.5 621.4,228 616.4,237.6" fill="#fff" stroke="#333" stroke-width="0.55" />
<polygon points="621.4,228 714.2,290.4 793.4,394 783.2,402.2 711,309 691.6,302.7 692.8,293.9 616.4,237.6" fill="#b2b2b2" stroke="#222" stroke-width="0.75" />
<polygon points="621.6,230.2 712.9,291.6 791.5,394.2 783.6,400.4 712,307.6 693.2,301.6 694.2,293.2 618.2,237.2" fill="#919191" stroke="#3a3a3a" stroke-width="0.5" />
<polygon points="659.3,287.3 662.6,281.7 670.6,285.6 667.6,291.4" fill="#fff" stroke="#333" stroke-width="0.6" />
<polygon points="670.6,285.6 692.8,294.3 690.8,302.2 667.6,291.4" fill="#777" stroke="#222" stroke-width="0.6" />
<line x1="673.1" y1="286.6" x2="670.2" y2="292.6" stroke="#2a2a2a" stroke-width="0.5"/>
<line x1="675.5" y1="287.5" x2="672.8" y2="293.8" stroke="#2a2a2a" stroke-width="0.5"/>
<line x1="678" y1="288.5" x2="675.3" y2="295" stroke="#2a2a2a" stroke-width="0.5"/>
<line x1="680.5" y1="289.5" x2="677.9" y2="296.2" stroke="#2a2a2a" stroke-width="0.5"/>
<line x1="682.9" y1="290.4" x2="680.5" y2="297.4" stroke="#2a2a2a" stroke-width="0.5"/>
<line x1="685.4" y1="291.4" x2="683.1" y2="298.6" stroke="#2a2a2a" stroke-width="0.5"/>
<line x1="687.9" y1="292.4" x2="685.6" y2="299.8" stroke="#2a2a2a" stroke-width="0.5"/>
<line x1="690.3" y1="293.3" x2="688.2" y2="301" stroke="#2a2a2a" stroke-width="0.5"/>
</g>
<g id="creek">
<polyline points="736,344.2 684,371.3 615.1,426.4 540,472.7 529,480 380,574 246.3,658.8 230,673.3 232.3,680 210,693.8" fill="none" stroke="#1a1a1a" stroke-width="0.85" />
<polyline points="210,693.8 206.3,688.8 191.4,689.5" fill="none" stroke="#222" stroke-width="0.7" />
<polyline points="775.4,393.1 695.3,449.7 604.1,505" fill="none" stroke="#bcbcbc" stroke-width="0.7" />
<polyline points="604.1,505 447.6,578.4 380,632.8 350.3,656.2" fill="none" stroke="#8e8e8e" stroke-width="0.7" />
<line x1="603.6" y1="503.8" x2="604.6" y2="506.2" stroke="#888" stroke-width="0.6"/>
<polyline points="350.3,656.2 350.3,673 342.5,673" fill="none" stroke="#c4c4c4" stroke-width="0.6" />
<line x1="350.3" y1="656" x2="290.8" y2="670.5" stroke="#222" stroke-width="0.8"/>
<line x1="274.5" y1="685.5" x2="267" y2="694.5" stroke="#222" stroke-width="0.8"/>
<path d="M417.6,570.2 C420.2,568.5 428,563.1 433,560 C438,556.9 444.1,554.1 447.6,551.8 C451.1,549.5 454,548 454.2,546.4 C454.4,544.8 450.5,543.1 449,542.2 C447.5,541.3 443.7,542 445.2,541.2 C446.7,540.4 453.2,538.7 458,537.5 C462.8,536.3 471.2,534.4 473.9,533.8" fill="none" stroke="#222" stroke-width="0.7" />
<path d="M514,531.3 C515.3,529.6 519.3,524.3 522,521 C524.7,517.7 528.3,513.1 530.3,511.3 C532.3,509.5 533.2,509.6 534.2,510.2 C535.2,510.8 535.5,513.1 536.3,515 C537.1,516.9 537.3,519.9 538.8,521.5 C540.3,523.1 541.9,525.2 545.3,524.6 C548.7,524 554.2,520.8 559,518 C563.8,515.2 571.6,509.7 574.1,508" fill="none" stroke="#222" stroke-width="0.7" />
<polyline points="572.3,586.4 495.2,597.4 356.3,675.6 356.3,700" fill="none" stroke="#262626" stroke-width="0.9" />
<polyline points="572.3,586.4 572.5,589.2 495.8,600.4 359.3,677.4 359.3,700" fill="none" stroke="#262626" stroke-width="0.9" />
</g>
<g id="symbols">
<circle cx="325.4" cy="595.4" r="4.0" fill="none" stroke="#4a4a4a" stroke-width="0.95"/>
<text x="325.4" y="597.6" font-size="5.4" text-anchor="middle" font-weight="bold" textLength="6.2" lengthAdjust="spacingAndGlyphs" style="fill:#4a4a4a">T</text>
<circle cx="738.1" cy="307.5" r="4.0" fill="none" stroke="#4a4a4a" stroke-width="0.95"/>
<text x="738.1" y="309.7" font-size="5.4" text-anchor="middle" font-weight="bold" textLength="6.2" lengthAdjust="spacingAndGlyphs" style="fill:#4a4a4a">T</text>
<circle cx="585.8" cy="407.6" r="3" fill="#fff" stroke="#333" stroke-width="0.7"/>
<line x1="582" y1="404" x2="589.6" y2="411.2" stroke="#333" stroke-width="0.6"/>
</g>
<g id="trees">
<use href="#tree" x="224.8" y="82"/>
<use href="#tree" x="224" y="129"/>
<use href="#tree" x="227" y="179"/>
<use href="#tree" x="229" y="236"/>
<use href="#tree" x="230.5" y="285"/>
<use href="#tree" x="234" y="365"/>
<use href="#tree" x="234" y="397.5"/>
<use href="#tree" x="235" y="432.5"/>
<use href="#tree" x="436.8" y="75"/>
<use href="#tree" x="510" y="77"/>
<use href="#tree" x="574.8" y="81.3"/>
<use href="#tree" x="642" y="81.3"/>
<use href="#tree" x="696.4" y="78.8"/>
<use href="#tree" x="484.4" y="108.1"/>
<use href="#tree" x="539.7" y="108.9"/>
<use href="#tree" x="607.9" y="108.4"/>
<use href="#tree" x="670.5" y="111.4"/>
<use href="#tree" x="772" y="140.2"/>
<use href="#tree" x="778.5" y="187.8"/>
<use href="#tree" x="785.7" y="273.1"/>
<use href="#tree" x="563.3" y="440.2"/>
<use href="#tree" x="480.1" y="452.6"/>
<use href="#tree" x="447.6" y="482.2"/>
<circle cx="371.8" cy="546.4" r="12.4" fill="#fff"/>
<use href="#tree" x="371.8" y="546.4"/>
<use href="#tree" x="329.1" y="538.4"/>
<use href="#tree" x="278.4" y="597.4"/>
<polygon points="267.2,594.5 279.3,585.4 291,597.5 278.6,608" fill="none" stroke="#222" stroke-width="0.6" />
<use href="#tree" transform="translate(278.6,597.2) rotate(40) scale(0.8)"/>
<line x1="325.5" y1="546" x2="333" y2="531" stroke="#222" stroke-width="0.6"/>
</g>
<g id="labels">
<text x="532.8" y="9.1" font-size="8.5" textLength="76.7" lengthAdjust="spacingAndGlyphs">CHURCH STREET</text>
<line x1="532.8" y1="11" x2="609.5" y2="11" stroke="#777" stroke-width="0.7"/>
<text transform="translate(113.9,310.9) rotate(-90)" font-size="8.5" textLength="151.2" lengthAdjust="spacingAndGlyphs">TOWN OF CLIFTON FORGE ALLEY</text>
<line x1="115.6" y1="310.9" x2="115.6" y2="159.7" stroke="#777" stroke-width="0.7"/>
<text class="sm" x="478.8" y="532.7" font-size="4.6" textLength="30.8" lengthAdjust="spacingAndGlyphs">SMITH CREEK</text>
<text class="sm" transform="translate(478.8,571.8) rotate(-24.3)" font-size="4.5" textLength="49.9" lengthAdjust="spacingAndGlyphs">EAST BANK OF CREEK</text>
<text class="sm" transform="translate(404.6,646.3) rotate(-28.7)" font-size="4.3" textLength="38.1" lengthAdjust="spacingAndGlyphs">RETAINING WALL</text>
</g>
<g id="title">
<rect x="888" y="640" width="192" height="55" fill="#fcfcfc"/>
<circle cx="909.6" cy="668" r="12" fill="none" stroke="#757575" stroke-width="1.35"/>
<line x1="906.9" y1="653.1" x2="909.6" y2="668" stroke="#222" stroke-width="1.6"/>
<text x="905.9" y="651" font-size="4" text-anchor="middle" style="fill:#666">N</text>
<text x="944.6" y="679.7" font-size="36.8" textLength="127.4" lengthAdjust="spacingAndGlyphs" style="fill:#111;stroke:#fff;stroke-width:0.2px">SITE PLAN</text>
</g>
</svg></body></html>
